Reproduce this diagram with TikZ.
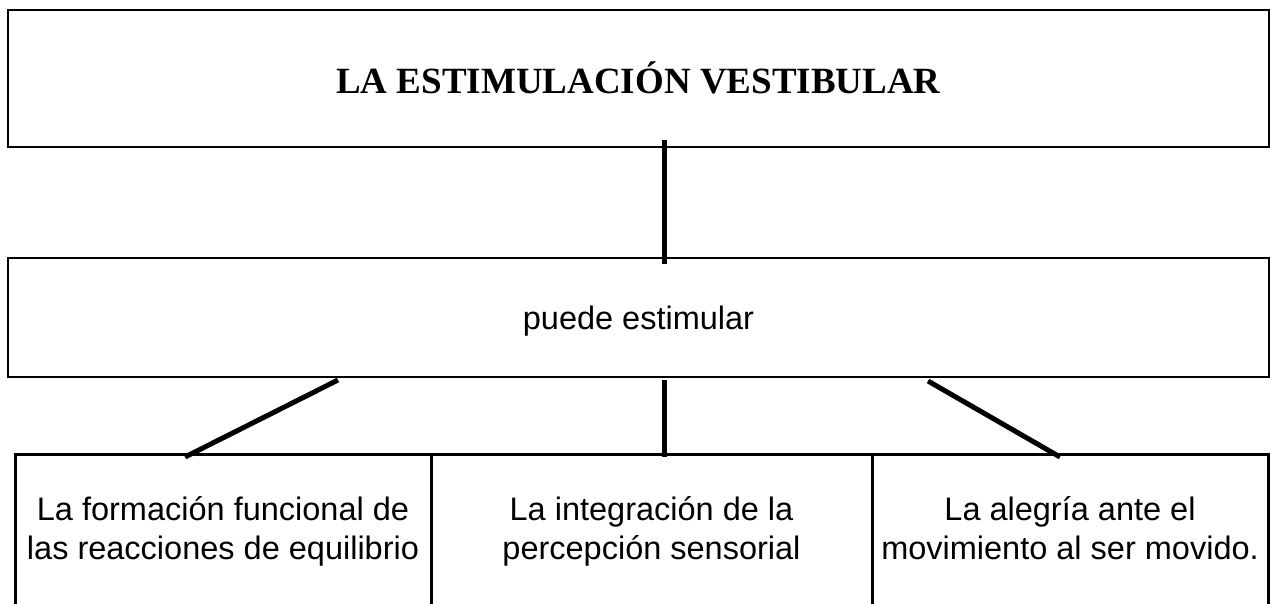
\documentclass[tikz,border=0pt]{standalone}
\usepackage{fontspec}
\setmainfont{Liberation Serif}
\setsansfont{Liberation Sans}
\usepackage{tikz}
\usetikzlibrary{positioning}
\tikzset{
  topbox/.style={draw=black, line width=2pt, outer sep=0pt, inner sep=0pt, minimum width=1261pt, minimum height=137pt, text height=29pt, text depth=0pt, font=\bfseries\fontsize{37}{44}\selectfont},
  midbox/.style={draw=black, line width=2pt, outer sep=0pt, inner sep=0pt, minimum width=1261pt, minimum height=119pt, text height=30pt, text depth=7pt, font=\sffamily\fontsize{32.5}{39}\selectfont},
  leafbox/.style={draw=black, line width=3pt, outer sep=0pt, inner sep=0pt, align=center, minimum height=155pt, text depth=7pt, font=\sffamily\fontsize{32.5}{39}\selectfont},
  conn/.style={line width=5pt, draw=black},
}

\begin{document}
\begin{tikzpicture}[x=1pt, y=-1pt]
    \clip (0,0) rectangle (1271,603);
    \node[topbox, anchor=north west] (title) at (8,10) {LA ESTIMULACIÓN VESTIBULAR};
    \node[midbox, below=111pt of title] (estim) {puede estimular};
    \node[leafbox, minimum width=416pt, anchor=north west] (form) at (15,454) {La formación funcional de\\las reacciones de equilibrio};
    \node[leafbox, minimum width=441pt, right=0pt of form] (integ) {La integración de la\\percepción sensorial};
    \node[leafbox, minimum width=396pt, right=0pt of integ] (alegr) {La alegría ante el\\movimiento al ser movido.};
    \draw[conn] ([shift={(25.5,-7)}]title.south) -- ([shift={(25.5,6)}]estim.north);
    \draw[conn] ([shift={(25.5,3)}]estim.south) -- ([shift={(12.5,3)}]integ.north);
    \draw[conn] ([shift={(-300.5,3)}]estim.south) -- ([shift={(-38,3)}]form.north);
    \draw[conn] ([shift={(289.5,4)}]estim.south) -- ([shift={(-10,3)}]alegr.north);
  \end{tikzpicture}
\end{document}
